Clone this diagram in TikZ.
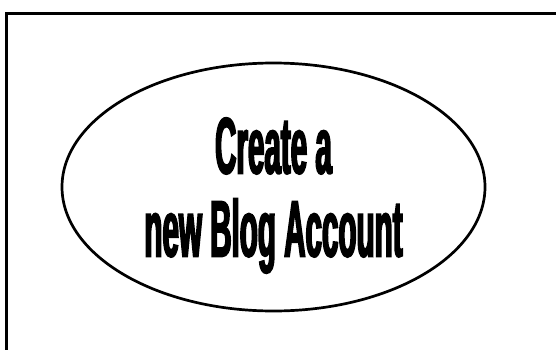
\documentclass[tikz,border=0pt]{standalone}
\usepackage{fontspec}
\usetikzlibrary{shapes.geometric}
\newfontfamily\blogfont{Liberation Sans}[FakeStretch=0.37, FakeBold=2]

\begin{document}
\begin{tikzpicture}[x=1pt, y=1pt,
  usecase/.style={ellipse, draw, line width=2.7pt, minimum width=423pt, minimum height=248pt, inner sep=0pt},
  usecasetext/.style={align=center, font=\blogfont\bfseries\fontsize{80}{83}\selectfont, inner sep=0pt}]

% Page frame
\useasboundingbox (0,0) rectangle (556,349);
\clip (0,0) rectangle (556,349);
\draw[line width=3pt] (6.5,-10) -- (6.5,335.5) -- (570,335.5);

% Use case
\node[usecase] (account) at (273.5,162) {};
\node[usecasetext] (accounttext) at ([yshift=-8.5pt]account.center) {Create a\\new Blog Account};

\end{tikzpicture}
\end{document}
